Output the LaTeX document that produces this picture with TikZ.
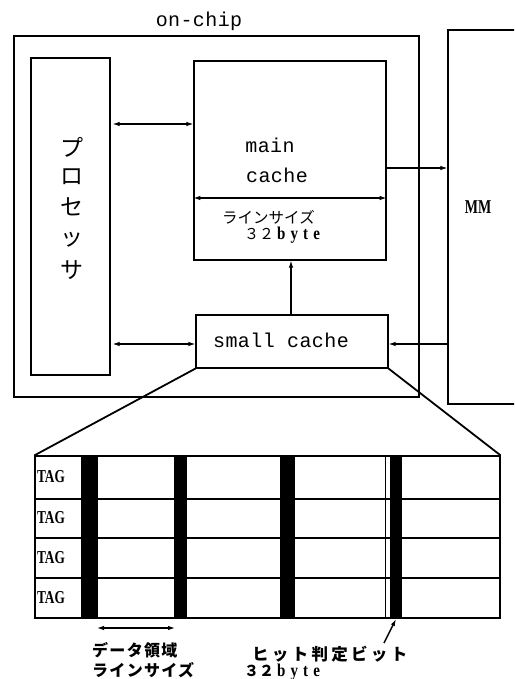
\documentclass[tikz,border=0pt]{standalone}
\usepackage{fontspec}
\usepackage{graphicx}
\usetikzlibrary{arrows.meta}
\newfontfamily\jp{Noto Sans CJK JP}
\newfontfamily\jps[LetterSpace=20]{Noto Sans CJK JP}
\newfontfamily\jpm[LetterSpace=8]{Noto Sans CJK JP}
\newfontfamily\mono[LetterSpace=2]{Liberation Mono}
\newfontfamily\serifb[LetterSpace=34]{Liberation Serif}
\newfontfamily\serifbb{Liberation Serif}
\newcommand{\bytetxt}{\scalebox{1}[1.2]{\serifb\bfseries\fontsize{15}{15}\selectfont byte}}
\begin{document}
\begin{tikzpicture}[x=1pt,y=-1pt,
  box/.style={draw,line width=1.2pt,rectangle,inner sep=0pt},
  dbl/.style={{Latex[length=7pt,width=4.5pt]}-{Latex[length=7pt,width=4.5pt]},line width=1.1pt},
  arr/.style={-{Latex[length=7pt,width=4.5pt]},line width=1.1pt},
  lbl/.style={inner sep=0pt},
  tt/.style={lbl,font=\mono\fontsize{20}{20}\selectfont},
  jpt/.style={lbl,font=\jp\fontsize{15.5}{15.5}\selectfont},
  jpb/.style={lbl,font=\jpm\bfseries\fontsize{16}{16}\selectfont}]
\clip (0,0) rectangle (514,679);
\fill[white] (0,0) rectangle (514,679);
% boxes
\node[box,minimum width=405pt,minimum height=361pt] (onchip) at (216.5,216.5) {};
\node[box,minimum width=79pt,minimum height=317pt] (proc) at (70.5,216.5) {};
\node[box,minimum width=192pt,minimum height=199pt] (main) at (290,160.5) {};
\node[box,minimum width=192pt,minimum height=53pt] (small) at (292,341.5) {};
\node[box,minimum width=90pt,minimum height=374pt] (mm) at (493,217) {};
% labels
\node[tt] (lonchip) at (199,21) {on-chip};
\node[tt] (lmain) at (270,145) {main};
\node[tt] (lcache) at (277,175) {cache};
\node[jpt,anchor=base west] (lline) at (222,223) {ラインサイズ};
\node[lbl,anchor=base west] (lbyte) at (244,239) {{\jp\fontsize{15}{15}\selectfont ３２}\hspace{3pt}\bytetxt};
\node[tt] (lsmall) at (281,340) {small cache};
\node[lbl] (lmm) at (478,207) {\scalebox{1}[1.4]{\serifbb\bfseries\fontsize{14}{14}\selectfont MM}};
\foreach \c/\y/\n in {プ/147/p1,ロ/177/p2,セ/207/p3,ッ/240/p4,サ/270/p5}
  \node[lbl,font=\jp\fontsize{23}{23}\selectfont] (\n) at (72,\y) {\c};
% connectors
\coordinate (r1) at (0,124);
\coordinate (r2) at (0,168);
\coordinate (r3) at (0,198);
\coordinate (r4) at (0,344);
\coordinate (c1) at (291,0);
\draw[dbl] ([xshift=2pt]proc.east |- r1) -- (main.west |- r1);
\draw[arr] (main.east |- r2) -- (mm.west |- r2);
\draw[dbl] (main.west |- r3) -- (main.east |- r3);
\draw[arr] (small.north -| c1) -- (main.south -| c1);
\draw[dbl] ([xshift=2pt]proc.east |- r4) -- (small.west |- r4);
\draw[arr] (mm.west |- r4) -- (small.east |- r4);
% table
\node[box,minimum width=465pt,minimum height=162pt] (tab) at (267.5,537) {};
\draw[line width=1.8pt] (small.south west) -- (tab.north west);
\draw[line width=1.8pt] (small.south east) -- (tab.north east);
\draw[line width=1.8pt] (tab.north west) -- (tab.north east);
\foreach \y in {499,538,578}
  \draw[line width=1.2pt] (tab.west |- 0,\y) -- (tab.east |- 0,\y);
\draw[line width=1.2pt] (82,456) -- (82,618);
\draw[line width=0.6pt] (385,456) -- (385,618);
\foreach \a/\b in {82/98,174/187,280/295,390/402}
  \fill (\a,456) rectangle (\b,618);
\foreach \y/\n in {477/t1,518/t2,558/t3,598/t4}
  \node[lbl] (\n) at (51,\y) {\scalebox{0.95}[1.3]{\serifbb\bfseries\fontsize{14}{14}\selectfont TAG}};
% bottom labels
\coordinate (d1) at (97,628);
\coordinate (d2) at (175,628);
\draw[dbl] (d1) -- (d2);
\node[jpb,anchor=base west] (ldata) at (92,656) {データ領域};
\node[jpb,anchor=base west] (lline2) at (92,676) {ラインサイズ};
\node[lbl,anchor=base west] (lbyte2) at (244,676) {{\jp\bfseries\fontsize{15}{15}\selectfont ３２}\hspace{3pt}\bytetxt};
\node[lbl,anchor=base west,font=\jps\bfseries\fontsize{16.5}{16.5}\selectfont] (lhit) at (252,660) {ヒット判定ビット};
\coordinate (h1) at (384,643);
\coordinate (h2) at (396,619);
\draw[arr,line width=1.5pt] (h1) -- (h2);
\end{tikzpicture}
\end{document}
